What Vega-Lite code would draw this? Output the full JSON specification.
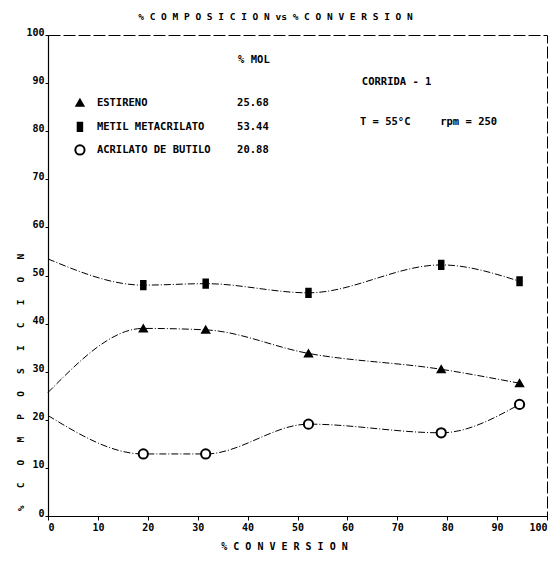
{
  "$schema": "https://vega.github.io/schema/vega-lite/v6.json",
  "width": 499,
  "height": 481,
  "autosize": {"type": "none"},
  "padding": {"left": 48, "top": 35, "right": 5, "bottom": 45},
  "background": "white",
  "title": {
    "text": "% C O M P O S I C I O N  vs  % C O N V E R S I O N",
    "font": "DejaVu Sans Mono",
    "fontSize": 9.5,
    "fontWeight": "bold",
    "color": "black",
    "offset": 6,
    "dx": -22,
    "anchor": "middle"
  },
  "config": {
    "view": {"stroke": "black", "strokeWidth": 1, "strokeDash": [12, 3]},
    "axis": {
      "grid": false,
      "domainColor": "black",
      "domainWidth": 1.2,
      "tickColor": "black",
      "labelColor": "black",
      "labelFont": "DejaVu Sans Mono",
      "labelFontSize": 10,
      "labelFontWeight": "bold",
      "titleColor": "black",
      "titleFont": "DejaVu Sans Mono",
      "titleFontSize": 10,
      "titleFontWeight": "bold"
    }
  },
  "datasets": {
    "series": [
      {"s": "ESTIRENO", "x": 0, "y": 25.68},
      {"s": "ESTIRENO", "x": 19.1, "y": 39.0},
      {"s": "ESTIRENO", "x": 31.6, "y": 38.7},
      {"s": "ESTIRENO", "x": 52.2, "y": 33.8},
      {"s": "ESTIRENO", "x": 78.8, "y": 30.5},
      {"s": "ESTIRENO", "x": 94.5, "y": 27.6},
      {"s": "METIL METACRILATO", "x": 0, "y": 53.44},
      {"s": "METIL METACRILATO", "x": 19.1, "y": 48.0},
      {"s": "METIL METACRILATO", "x": 31.6, "y": 48.3},
      {"s": "METIL METACRILATO", "x": 52.2, "y": 46.4},
      {"s": "METIL METACRILATO", "x": 78.8, "y": 52.2},
      {"s": "METIL METACRILATO", "x": 94.5, "y": 48.8},
      {"s": "ACRILATO DE BUTILO", "x": 0, "y": 20.88},
      {"s": "ACRILATO DE BUTILO", "x": 19.1, "y": 12.9},
      {"s": "ACRILATO DE BUTILO", "x": 31.6, "y": 12.9},
      {"s": "ACRILATO DE BUTILO", "x": 52.2, "y": 19.1},
      {"s": "ACRILATO DE BUTILO", "x": 78.8, "y": 17.3},
      {"s": "ACRILATO DE BUTILO", "x": 94.5, "y": 23.2}
    ],
    "legend": [
      {"s": "ESTIRENO", "mx": 6.4, "tx": 9.8, "vx": 37.9, "y": 85.9, "val": "25.68"},
      {"s": "METIL METACRILATO", "mx": 6.4, "tx": 9.8, "vx": 37.9, "y": 80.9, "val": "53.44"},
      {"s": "ACRILATO DE BUTILO", "mx": 6.4, "tx": 9.8, "vx": 37.9, "y": 76.1, "val": "20.88"}
    ],
    "notes": [
      {"t": "% MOL", "x": 38.1, "y": 94.8},
      {"t": "CORRIDA - 1", "x": 62.9, "y": 90.2},
      {"t": "T = 55°C", "x": 62.5, "y": 81.9},
      {"t": "rpm = 250", "x": 78.6, "y": 81.9}
    ]
  },
  "encoding": {
    "x": {
      "field": "x",
      "type": "quantitative",
      "scale": {"domain": [0, 100], "nice": false},
      "axis": {
        "values": [0, 10, 20, 30, 40, 50, 60, 70, 80, 90, 100],
        "tickSize": 4,
        "labelPadding": 2,
        "title": "% C O N V E R S I O N",
        "titleX": 236,
        "titleY": 30,
        "titleAlign": "center",
        "titleBaseline": "middle"
      }
    },
    "y": {
      "field": "y",
      "type": "quantitative",
      "scale": {"domain": [0, 100], "nice": false},
      "axis": {
        "values": [0, 10, 20, 30, 40, 50, 60, 70, 80, 90, 100],
        "tickSize": 3,
        "labelPadding": 1,
        "labelBaseline": "alphabetic",
        "title": "%\u00a0\u00a0\u00a0C\u00a0\u00a0\u00a0O\u00a0\u00a0\u00a0M\u00a0\u00a0\u00a0P\u00a0\u00a0\u00a0O\u00a0\u00a0\u00a0S\u00a0\u00a0\u00a0I\u00a0\u00a0\u00a0C\u00a0\u00a0\u00a0I\u00a0\u00a0\u00a0O\u00a0\u00a0\u00a0N",
        "titleFontSize": 9.5,
        "titleAngle": -90,
        "titleX": -28,
        "titleY": 347,
        "titleAlign": "center",
        "titleBaseline": "middle"
      }
    }
  },
  "layer": [
    {
      "data": {"name": "series"},
      "mark": {"type": "line", "color": "black", "strokeWidth": 1, "strokeDash": [7, 2, 1, 2], "interpolate": "monotone"},
      "encoding": {"detail": {"field": "s"}}
    },
    {
      "data": {"name": "series"},
      "transform": [{"filter": "datum.x > 0"}],
      "mark": {"type": "point", "filled": false, "stroke": "black", "strokeWidth": 2, "opacity": 1},
      "encoding": {
        "shape": {"field": "s", "type": "nominal", "legend": null,
          "scale": {"domain": ["ESTIRENO", "METIL METACRILATO", "ACRILATO DE BUTILO"],
                    "range": ["triangle-up", "M-0.55,-1H0.55V1H-0.55Z", "circle"]}},
        "fill": {"field": "s", "type": "nominal", "legend": null,
          "scale": {"domain": ["ESTIRENO", "METIL METACRILATO", "ACRILATO DE BUTILO"],
                    "range": ["black", "black", "white"]}},
        "size": {"field": "s", "type": "nominal", "legend": null,
          "scale": {"domain": ["ESTIRENO", "METIL METACRILATO", "ACRILATO DE BUTILO"],
                    "range": [48, 85, 32]}}
      }
    },
    {
      "data": {"name": "legend"},
      "mark": {"type": "point", "filled": false, "stroke": "black", "strokeWidth": 2, "opacity": 1},
      "encoding": {
        "x": {"field": "mx", "type": "quantitative"},
        "shape": {"field": "s", "type": "nominal", "legend": null,
          "scale": {"domain": ["ESTIRENO", "METIL METACRILATO", "ACRILATO DE BUTILO"],
                    "range": ["triangle-up", "M-0.55,-1H0.55V1H-0.55Z", "circle"]}},
        "fill": {"field": "s", "type": "nominal", "legend": null,
          "scale": {"domain": ["ESTIRENO", "METIL METACRILATO", "ACRILATO DE BUTILO"],
                    "range": ["black", "black", "white"]}},
        "size": {"field": "s", "type": "nominal", "legend": null,
          "scale": {"domain": ["ESTIRENO", "METIL METACRILATO", "ACRILATO DE BUTILO"],
                    "range": [48, 85, 32]}}
      }
    },
    {
      "data": {"name": "legend"},
      "mark": {"type": "text", "align": "left", "baseline": "middle", "font": "DejaVu Sans Mono", "fontSize": 10.5, "fontWeight": "bold", "color": "black"},
      "encoding": {
        "x": {"field": "tx", "type": "quantitative"},
        "text": {"field": "s"}
      }
    },
    {
      "data": {"name": "legend"},
      "mark": {"type": "text", "align": "left", "baseline": "middle", "font": "DejaVu Sans Mono", "fontSize": 10.5, "fontWeight": "bold", "color": "black"},
      "encoding": {
        "x": {"field": "vx", "type": "quantitative"},
        "text": {"field": "val"}
      }
    },
    {
      "data": {"name": "notes"},
      "mark": {"type": "text", "align": "left", "baseline": "middle", "font": "DejaVu Sans Mono", "fontSize": 10.5, "fontWeight": "bold", "color": "black"},
      "encoding": {
        "text": {"field": "t"}
      }
    }
  ]
}
